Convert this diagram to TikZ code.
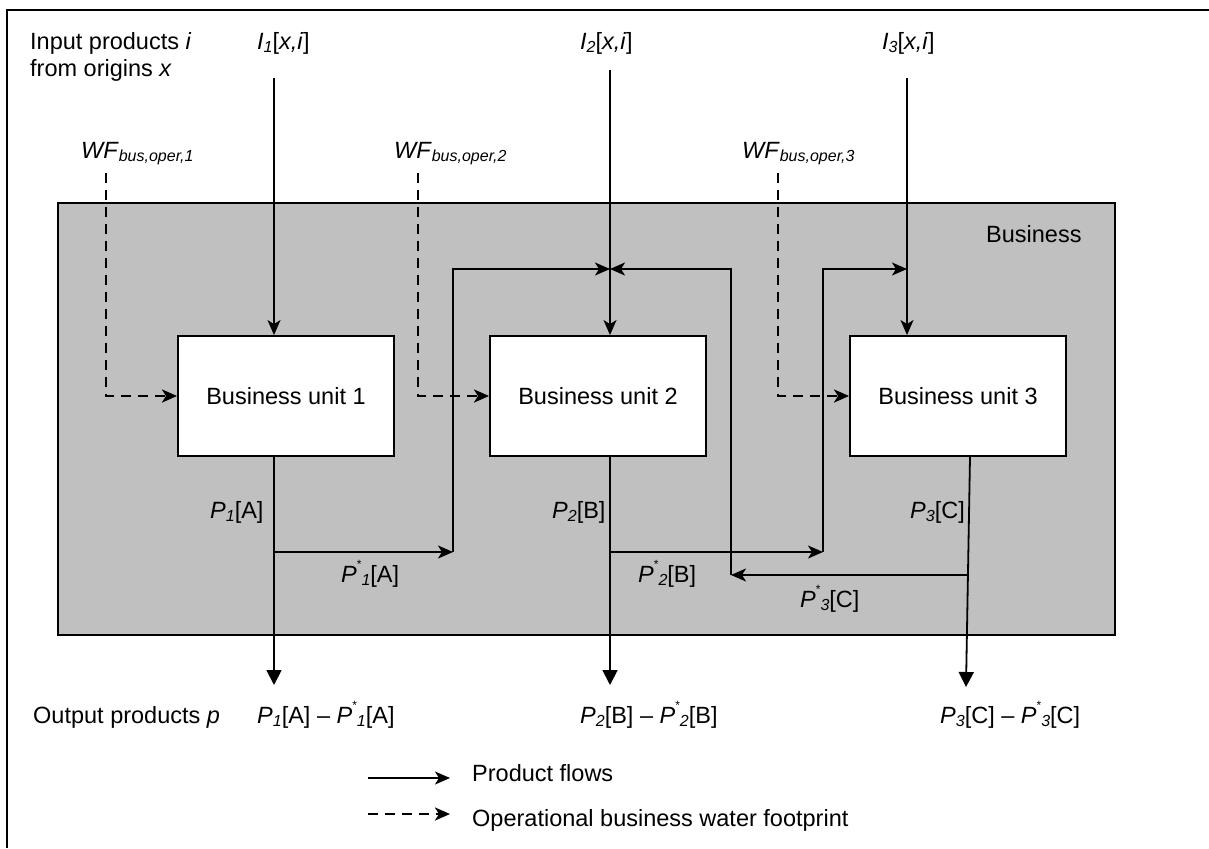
\documentclass[tikz,border=0pt]{standalone}
\usepackage{fontspec}
\setmainfont{Liberation Sans}
\usetikzlibrary{arrows.meta}
\definecolor{bgray}{RGB}{192,192,192}
\newcommand{\sbs}[1]{\raisebox{-3pt}{\fontsize{16}{16}\selectfont\itshape #1}}
\newcommand{\sps}{\raisebox{14pt}{\fontsize{12}{12}\selectfont *}}
\begin{document}
\begin{tikzpicture}[x=1pt,y=-1pt,
  txt/.style={inner sep=0pt, anchor=base west, font=\fontsize{23.5}{27}\selectfont},
  unit/.style={draw, line width=1.9pt, fill=white, minimum width=216pt, minimum height=120pt, inner sep=0pt, font=\fontsize{23.5}{27}\selectfont},
  flow/.style={line width=1.8pt, -{Stealth[length=15pt,width=13pt,inset=4pt]}},
  outflow/.style={line width=1.8pt, -{Triangle[length=15pt,width=15pt]}},
  wf/.style={line width=2.9pt, dash pattern=on 10pt off 7pt, -{Stealth[length=15pt,width=13pt,inset=4pt]}}]
\useasboundingbox (0,0) rectangle (1209,848);
% frame
\draw[line width=2.2pt] (7,848) -- (7,10) -- (1209,10);
% business
\node[draw, fill=bgray, line width=1.9pt, minimum width=1057pt, minimum height=432pt, anchor=north west, inner sep=0pt] (biz) at (57,202) {};
\node[txt] (bizlabel) at (986,242) {Business};
% units
\node[unit] (u1) at (286,396) {Business unit 1};
\node[unit] (u2) at (598,396) {Business unit 2};
\node[unit] (u3) at (958,396) {Business unit 3};
% top labels
\node[txt] (inp1) at (30,50) {Input products \textit{i}};
\node[txt] (inp2) at (30,77) {from origins \textit{x}};
\node[txt] (i1) at (257,50) {\textit{I}\sbs{1}[\textit{x,i}]};
\node[txt] (i2) at (580,50) {\textit{I}\sbs{2}[\textit{x,i}]};
\node[txt] (i3) at (882,50) {\textit{I}\sbs{3}[\textit{x,i}]};
\node[txt] (wf1) at (81,158) {\textit{WF}\sbs{bus,oper,1}};
\node[txt] (wf2) at (394,158) {\textit{WF}\sbs{bus,oper,2}};
\node[txt] (wf3) at (742,158) {\textit{WF}\sbs{bus,oper,3}};
% start coordinates
\coordinate (i1s) at (274,78);
\coordinate (i2s) at (610,70);
\coordinate (i3s) at (907,78);
\coordinate (w1s) at (106,173);
\coordinate (w2s) at (418,173);
\coordinate (w3s) at (778,173);
% inputs
\draw[flow] (i1s) -- (i1s |- u1.north);
\draw[flow] (i2s) -- (i2s |- u2.north);
\draw[flow] (i3s) -- (i3s |- u3.north);
\draw[wf] (w1s) |- (u1.west);
\draw[wf] (w2s) |- (u2.west);
\draw[wf] (w3s) |- (u3.west);
% outputs
\coordinate (o1) at (274,685);
\coordinate (o2) at (610,685);
\coordinate (o3) at (966,687);
\draw[outflow] (u1.south -| o1) -- (o1);
\draw[outflow] (u2.south -| o2) -- (o2);
\draw[outflow] ([xshift=12pt]u3.south) -- (o3);
% internal loops
\coordinate (b1) at (274,552);
\coordinate (c1) at (453,552);
\coordinate (m2) at (610,269);
\coordinate (b2) at (610,552);
\coordinate (c2) at (823,552);
\coordinate (m3) at (907,269);
\coordinate (b3) at (969,575);
\coordinate (c3) at (731,575);
\draw[flow] (b1) -- (c1);
\draw[flow] (c1) |- (m2);
\draw[flow] (b2) -- (c2);
\draw[flow] (c2) |- (m3);
\draw[flow] (b3) -- (c3);
\draw[flow] (c3) |- (m2);
% P labels
\node[txt] (p1) at (210,518) {\textit{P}\sbs{1}[A]};
\node[txt] (p2) at (552,518) {\textit{P}\sbs{2}[B]};
\node[txt] (p3) at (910,518) {\textit{P}\sbs{3}[C]};
\node[txt] (ps1) at (341,582) {\textit{P}\sps\sbs{1}[A]};
\node[txt] (ps2) at (638,582) {\textit{P}\sps\sbs{2}[B]};
\node[txt] (ps3) at (800,607) {\textit{P}\sps\sbs{3}[C]};
% output labels
\node[txt] (outl) at (33,723) {Output products \textit{p}};
\node[txt] (out1) at (257,723) {\textit{P}\sbs{1}[A] -- \textit{P}\sps\sbs{1}[A]};
\node[txt] (out2) at (580,723) {\textit{P}\sbs{2}[B] -- \textit{P}\sps\sbs{2}[B]};
\node[txt] (out3) at (940,723) {\textit{P}\sbs{3}[C] -- \textit{P}\sps\sbs{3}[C]};
% legend
\coordinate (l1a) at (368,778);
\coordinate (l1b) at (450,778);
\coordinate (l2a) at (368,814);
\coordinate (l2b) at (450,814);
\draw[flow] (l1a) -- (l1b);
\draw[wf] (l2a) -- (l2b);
\node[txt] (leg1) at (472,781) {Product flows};
\node[txt] (leg2) at (472,826) {Operational business water footprint};
\end{tikzpicture}
\end{document}
